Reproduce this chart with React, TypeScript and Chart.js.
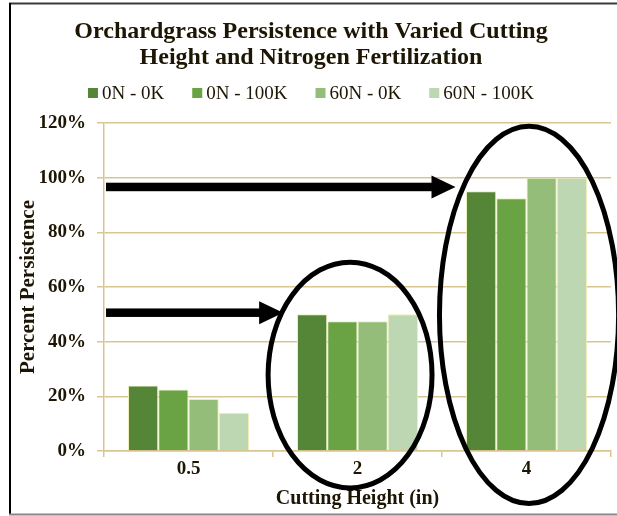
import React, { useEffect, useRef } from "react";
import { Chart, registerables } from "chart.js";

Chart.register(...registerables);

// ---- data ----
const categories = ["0.5", "2", "4"];
const seriesNames = ["0N - 0K", "0N - 100K", "60N - 0K", "60N - 100K"];
const values0N0K = [24, 50, 95];
const values0N100K = [22.5, 47.5, 92.5];
const values60N0K = [19, 47.5, 100];
const values60N100K = [14, 50, 100];
const seriesColors = ["#558536", "#69a343", "#93bd78", "#bdd7b3"];
const yMin = 0;
const yMax = 120;
const yStep = 20;
const titleLines = [
  "Orchardgrass Persistence with Varied Cutting",
  "Height and Nitrogen Fertilization",
];
const xTitle = "Cutting Height (in)";
const yTitle = "Percent Persistence";

// annotations (in category-index / value units)
const ellipseCenters = [
  { cat: 0.956, value: 27.8 },
  { cat: 2.015, value: 49.8 },
];
const ellipseRadii = [
  { cat: 0.485, value: 41.3 },
  { cat: 0.53, value: 69 },
];
const arrowValues = [96.6, 50.6];
const arrowTips = [1.58, 0.56];

const FONT = "'Liberation Serif', 'Times New Roman', serif";
const TEXT = "#1e1604";
const TAN = "#d9c590";

export default function App() {
  const ref = useRef<HTMLCanvasElement | null>(null);

  useEffect(() => {
    const canvas = ref.current;
    if (!canvas) return;

    const decorPlugin = {
      id: "decor",
      beforeDraw(chart: any) {
        const ctx = chart.ctx;
        ctx.save();
        ctx.fillStyle = "#ffffff";
        ctx.fillRect(0, 0, chart.width, chart.height);
        ctx.restore();
      },
      afterDraw(chart: any) {
        const ctx = chart.ctx;
        const xs = chart.scales.x;
        const ys = chart.scales.y;
        const area = chart.chartArea;
        ctx.save();

        // frame
        ctx.lineWidth = 2;
        ctx.strokeStyle = "#3a3a3a";
        ctx.beginPath();
        ctx.moveTo(9, 3.5);
        ctx.lineTo(chart.width, 3.5);
        ctx.stroke();
        ctx.strokeStyle = "#000000";
        ctx.beginPath();
        ctx.moveTo(10, 3);
        ctx.lineTo(10, 515);
        ctx.stroke();
        ctx.strokeStyle = "#888888";
        ctx.beginPath();
        ctx.moveTo(9, 514.5);
        ctx.lineTo(chart.width, 514.5);
        ctx.stroke();

        // title
        const cx = 311;
        ctx.fillStyle = TEXT;
        ctx.textAlign = "center";
        ctx.textBaseline = "middle";
        ctx.font = `bold 24px ${FONT}`;
        ctx.fillText(titleLines[0], cx, 32);
        ctx.fillText(titleLines[1], cx, 58);

        // legend
        ctx.font = `19px ${FONT}`;
        const box = 10;
        const boxGap = 4;
        const itemGap = 28;
        const widths = seriesNames.map((n) => ctx.measureText(n).width);
        const total =
          widths.reduce((a, b) => a + b, 0) +
          seriesNames.length * (box + boxGap) +
          (seriesNames.length - 1) * itemGap;
        let lx = cx - total / 2;
        const ly = 93;
        ctx.textAlign = "left";
        seriesNames.forEach((n, i) => {
          ctx.fillStyle = seriesColors[i];
          ctx.fillRect(lx, ly - box / 2, box, box);
          lx += box + boxGap;
          ctx.fillStyle = TEXT;
          ctx.fillText(n, lx, ly + 1);
          lx += widths[i] + itemGap;
        });

        // ellipses
        const catW = xs.getPixelForValue(1) - xs.getPixelForValue(0);
        const pxPerVal = ys.getPixelForValue(0) - ys.getPixelForValue(1);
        ctx.strokeStyle = "#000000";
        ctx.lineWidth = 5;
        ellipseCenters.forEach((c, i) => {
          const ex = xs.getPixelForValue(c.cat);
          const ey = ys.getPixelForValue(c.value);
          ctx.beginPath();
          ctx.ellipse(
            ex,
            ey,
            ellipseRadii[i].cat * catW,
            ellipseRadii[i].value * pxPerVal,
            0,
            0,
            Math.PI * 2
          );
          ctx.stroke();
        });

        // arrows
        ctx.fillStyle = "#000000";
        arrowValues.forEach((v, i) => {
          const y = ys.getPixelForValue(v);
          const tip = xs.getPixelForValue(arrowTips[i]);
          const headLen = 24;
          const half = 11.5;
          const shaft = 8.5;
          ctx.fillRect(area.left + 2, y - shaft / 2, tip - headLen - area.left - 2 + 1, shaft);
          ctx.beginPath();
          ctx.moveTo(tip - headLen, y - half);
          ctx.lineTo(tip, y);
          ctx.lineTo(tip - headLen, y + half);
          ctx.closePath();
          ctx.fill();
        });

        ctx.restore();
      },
    };

    const seriesValues = [values0N0K, values0N100K, values60N0K, values60N100K];

    const chart = new Chart(canvas, {
      type: "bar",
      data: {
        labels: categories,
        datasets: seriesNames.map((name, i) => ({
          label: name,
          data: seriesValues[i],
          backgroundColor: seriesColors[i],
          borderColor: "rgba(236,236,180,0.9)",
          borderWidth: 1,
          categoryPercentage: 0.716,
          barPercentage: 1,
        })),
      },
      options: {
        responsive: false,
        animation: false,
        devicePixelRatio: 1,
        layout: { padding: { top: 123, right: 6, left: 0, bottom: 0 } },
        plugins: {
          legend: { display: false },
          title: { display: false },
          tooltip: { enabled: false },
        },
        scales: {
          x: {
            grid: {
              display: true,
              drawOnChartArea: false,
              drawTicks: true,
              tickLength: 6,
              color: TAN,
              lineWidth: 1.5,
              offset: true,
            },
            border: { display: true, color: TAN, width: 1.5 },
            ticks: {
              font: { family: FONT, size: 19, weight: "bold" },
              color: TEXT,
              padding: 1,
            },
            title: {
              display: true,
              text: xTitle,
              font: { family: FONT, size: 20, weight: "bold" },
              color: TEXT,
              padding: { top: 0, bottom: 5 },
            },
            afterFit: (s: any) => {
              s.height = 65;
            },
          },
          y: {
            min: yMin,
            max: yMax,
            ticks: {
              stepSize: yStep,
              callback: (v: any) => `${v}%`,
              font: { family: FONT, size: 19, weight: "bold" },
              color: TEXT,
              padding: 11,
            },
            grid: { color: TAN, lineWidth: 1.5, tickLength: 7 },
            border: { display: true, color: TAN, width: 1.5 },
            title: {
              display: true,
              text: yTitle,
              font: { family: FONT, size: 21, weight: "bold" },
              color: TEXT,
              padding: { top: 16, bottom: 0 },
            },
            afterFit: (s: any) => {
              s.width = 104;
            },
          },
        },
      },
      plugins: [decorPlugin],
    });

    return () => chart.destroy();
  }, []);

  return (
    <div
      style={{
        position: "fixed",
        left: 0,
        top: 0,
        width: 617,
        height: 516,
        background: "#ffffff",
      }}
    >
      <canvas ref={ref} width={617} height={516} style={{ display: "block" }} />
    </div>
  );
}
